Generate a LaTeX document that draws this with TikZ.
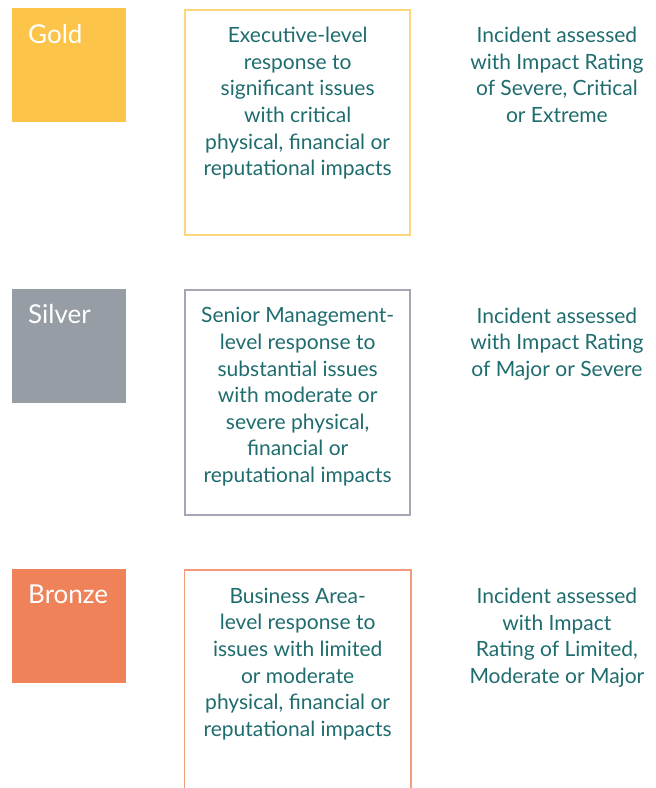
\documentclass[tikz,border=0pt]{standalone}
\usepackage{fontspec}
\setmainfont{Lato}
\usetikzlibrary{positioning}

\definecolor{goldfill}{HTML}{FCC449}
\definecolor{goldline}{HTML}{FDD57C}
\definecolor{silverfill}{HTML}{979DA5}
\definecolor{silverline}{HTML}{A6A6B4}
\definecolor{bronzefill}{HTML}{F0825A}
\definecolor{bronzeline}{HTML}{F39A7E}
\definecolor{tealtext}{HTML}{1F6C6E}

\begin{document}
\begin{tikzpicture}[
	tier/.style={
		minimum width=114pt,
		minimum height=114pt,
		inner sep=0pt,
	},
	tiername/.style={
		text=white,
		font=\fontsize{26}{30}\selectfont,
		anchor=base west,
		inner sep=0pt,
	},
	descbox/.style={
		minimum width=225pt,
		minimum height=225pt,
		line width=1.5pt,
		inner sep=0pt,
	},
	desctext/.style={
		text=tealtext,
		font=\fontsize{21}{26.6}\selectfont,
		align=center,
		anchor=north,
		inner sep=0pt,
	},
	node distance=58pt
]
\useasboundingbox (0,0) rectangle (656pt,-788pt);

% Gold tier
\node [tier,fill=goldfill,anchor=north west] (gold) at (12pt,-8pt) {};
\node [tiername] (goldname) at ([xshift=16pt,yshift=-35pt]gold.north west) {Gold};
\node [descbox,draw=goldline,right=58pt of gold.north east,anchor=north west,yshift=-1pt] (goldbox) {};
\node [desctext] (goldtext) at ([yshift=-18pt]goldbox.north) {
	Executive-level\\
	response to\\
	significant issues\\
	with critical\\
	physical, financial or\\
	reputational impacts
};
\node [desctext] (goldrate) at ([xshift=146pt,yshift=-18pt]goldbox.north east) {
	Incident assessed\\
	with Impact Rating\\
	of Severe, Critical\\
	or Extreme
};

% Silver tier
\node [tier,fill=silverfill,below=166pt of gold] (silver) {};
\node [tiername] (silvername) at ([xshift=16pt,yshift=-35pt]silver.north west) {Silver};
\node [descbox,draw=silverline,right=58pt of silver.north east,anchor=north west,yshift=-1pt] (silverbox) {};
\node [desctext] (silvertext) at ([yshift=-18pt]silverbox.north) {
	Senior Management-\\
	level response to\\
	substantial issues\\
	with moderate or\\
	severe physical,\\
	financial or\\
	reputational impacts
};
\node [desctext] (silverrate) at ([xshift=146pt,yshift=-18pt]silverbox.north east) {
	Incident assessed\\
	with Impact Rating\\
	of Major or Severe
};

% Bronze tier (box runs off the bottom)
\node [tier,fill=bronzefill,below=166pt of silver] (bronze) {};
\node [tiername] (bronzename) at ([xshift=16pt,yshift=-35pt]bronze.north west) {Bronze};
\node [descbox,minimum height=219pt,right=58pt of bronze.north east,anchor=north west,yshift=-1pt] (bronzebox) {};
\draw [line width=1.5pt,draw=bronzeline] (bronzebox.south west) |- (bronzebox.north east) -- (bronzebox.south east);
\node [desctext] (bronzetext) at ([yshift=-18pt]bronzebox.north) {
	Business Area-\\
	level response to\\
	issues with limited\\
	or moderate\\
	physical, financial or\\
	reputational impacts
};
\node [desctext] (bronzerate) at ([xshift=146pt,yshift=-18pt]bronzebox.north east) {
	Incident assessed\\
	with Impact\\
	Rating of Limited,\\
	Moderate or Major
};

\end{tikzpicture}
\end{document}
